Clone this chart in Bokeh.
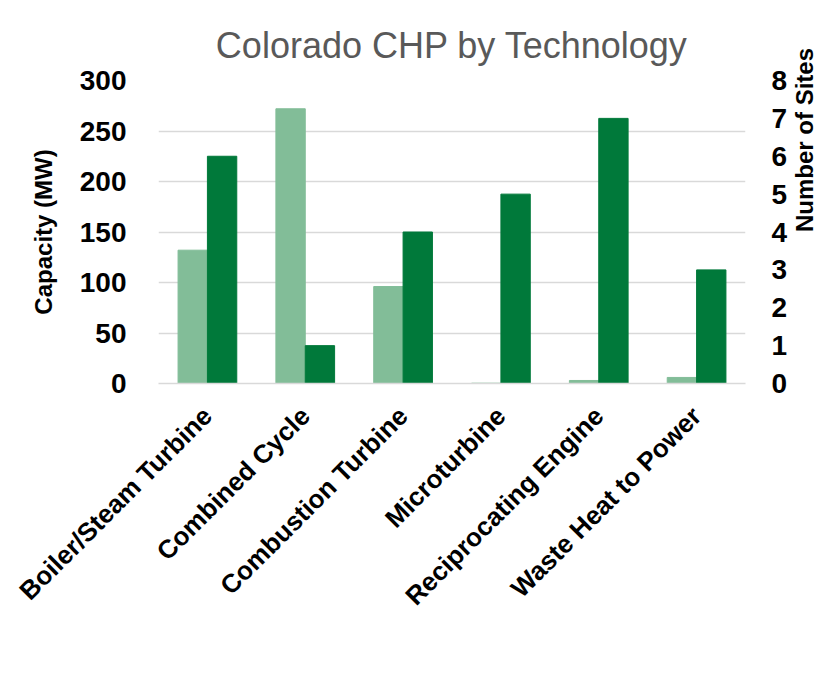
import math
from bokeh.plotting import figure
from bokeh.models import (ColumnDataSource, FactorRange, Range1d, LinearAxis,
                          Legend, LegendItem, FixedTicker)
from bokeh.transform import dodge
from bokeh.embed import file_html
from bokeh.resources import INLINE

categories = ["Boiler/Steam Turbine", "Combined Cycle", "Combustion Turbine",
              "Microturbine", "Reciprocating Engine", "Waste Heat to Power"]
capacity_mw = [132, 272, 96, 0.3, 3, 6]
sites = [6, 1, 4, 5, 7, 3]
capacity_ticks = [0, 50, 100, 150, 200, 250, 300]
site_ticks = [0, 1, 2, 3, 4, 5, 6, 7, 8]

LIGHT = "#82BD98"
DARK = "#00793A"
FONT = "Liberation Sans"

src = ColumnDataSource(dict(cat=categories, cap=capacity_mw, sites=sites))

p = figure(frame_width=587, frame_height=303,
           x_range=FactorRange(*categories, range_padding=0),
           y_range=Range1d(0, 300), output_backend="svg", toolbar_location=None,
           min_border_left=158, min_border_right=71, min_border_top=80,
           min_border_bottom=288)
p.extra_y_ranges = {"sites": Range1d(0, 8)}

p.title.text = "Colorado CHP by Technology"
p.title.align = "center"
p.title.text_font = FONT
p.title.text_font_size = "36px"
p.title.text_font_style = "normal"
p.title.text_color = "#595959"
p.title.standoff = 30

r1 = p.vbar(x=dodge("cat", -0.15, range=p.x_range), top="cap", width=0.3,
            source=src, fill_color=LIGHT, line_color=LIGHT)
r2 = p.vbar(x=dodge("cat", 0.15, range=p.x_range), top="sites", width=0.3,
            source=src, fill_color=DARK, line_color=DARK, y_range_name="sites")

p.outline_line_color = None
p.xgrid.grid_line_color = None
p.ygrid.grid_line_color = "#D9D9D9"
p.ygrid.grid_line_width = 1.5
p.ygrid.ticker = FixedTicker(ticks=capacity_ticks)

la = p.yaxis[0]
la.ticker = FixedTicker(ticks=capacity_ticks)
la.axis_label = "Capacity (MW)"

ra = LinearAxis(y_range_name="sites", ticker=FixedTicker(ticks=site_ticks),
                axis_label="Number of Sites")
p.add_layout(ra, "right")
if "axis_label_orientation" in ra.properties():
    ra.axis_label_orientation = math.pi / 2

for ax in (la, ra):
    ax.axis_line_color = None
    ax.major_tick_line_color = None
    ax.minor_tick_line_color = None
    ax.major_label_text_font = FONT
    ax.major_label_text_font_size = "28px"
    ax.major_label_text_font_style = "bold"
    ax.major_label_text_color = "#000000"
    ax.axis_label_text_font = FONT
    ax.axis_label_text_font_size = "24px"
    ax.axis_label_text_font_style = "bold"
    ax.axis_label_text_color = "#000000"
la.major_label_standoff = 26
la.axis_label_standoff = 20
ra.major_label_standoff = 20
ra.axis_label_standoff = 14

xa = p.xaxis[0]
xa.axis_line_color = "#D9D9D9"
xa.axis_line_width = 1.5
xa.major_tick_line_color = None
xa.minor_tick_line_color = None
xa.major_label_orientation = math.pi / 4
xa.major_label_text_font = FONT
xa.major_label_text_font_size = "26px"
xa.major_label_text_font_style = "bold"
xa.major_label_text_color = "#000000"
xa.major_label_standoff = 22

legend = Legend(items=[LegendItem(label="Capacity (MW)", renderers=[r1]),
                       LegendItem(label="Sites", renderers=[r2])],
                orientation="horizontal", location=(123, -288),
                label_text_font=FONT, label_text_font_size="26px",
                label_text_font_style="bold", label_text_color="#000000",
                glyph_width=15, glyph_height=15, label_standoff=8,
                padding=0, margin=0,
                spacing=28, border_line_color=None, background_fill_alpha=0)
p.add_layout(legend)

open("out.html", "w").write(file_html(p, INLINE))
